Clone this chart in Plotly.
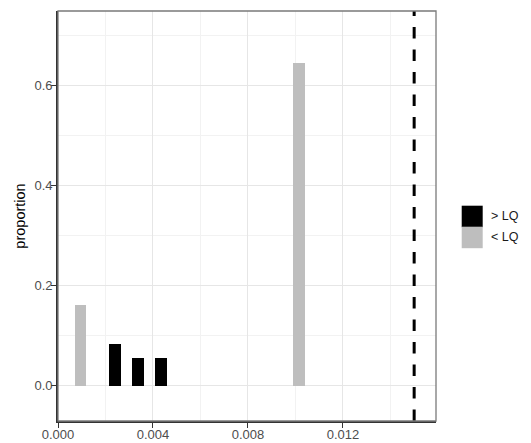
import plotly.graph_objects as go

# Data
above_x = [0.00239, 0.00337, 0.00434]
above_y = [0.0837, 0.0558, 0.0558]
below_x = [0.00095, 0.01015]
below_y = [0.162, 0.645]
bar_width = 0.0005
lq_line = 0.015
x_ticks = [0.0, 0.004, 0.008, 0.012]
y_ticks = [0.0, 0.2, 0.4, 0.6]
series_names = ["> LQ", "< LQ"]
series_colors = ["#000000", "#bebebe"]

FONT = "Liberation Sans, Arial, sans-serif"

ML, MR, MT, MB = 58, 95, 11, 22
W, H = 531, 443

fig = go.Figure()
fig.add_trace(go.Bar(x=above_x, y=above_y, width=bar_width, name=series_names[0],
                     marker=dict(color=series_colors[0], line=dict(width=0)), showlegend=False))
fig.add_trace(go.Bar(x=below_x, y=below_y, width=bar_width, name=series_names[1],
                     marker=dict(color=series_colors[1], line=dict(width=0)), showlegend=False))

# dashed vertical reference line
fig.add_shape(type="line", xref="x", yref="paper", x0=lq_line, x1=lq_line, y0=0, y1=1,
              line=dict(color="black", width=3, dash="11.5px,11px"), layer="above")

# panel border
fig.add_shape(type="rect", xref="paper", yref="paper", x0=0, x1=1, y0=0, y1=1,
              line=dict(color="#7a7a7a", width=1.3), layer="above")

# manual legend keys (large squares like ggplot)
pw = W - ML - MR
ph = H - MT - MB
def px_to_paper_x(px):
    return (px - ML) / pw
def px_to_paper_y(py):
    return (H - MB - py) / ph

key_tops = [205.7, 226.7]
for i, (nm, col) in enumerate(zip(series_names, series_colors)):
    t = key_tops[i]
    b = t + 21.5
    fig.add_shape(type="rect", xref="paper", yref="paper",
                  x0=px_to_paper_x(461.7), x1=px_to_paper_x(482.7),
                  y0=px_to_paper_y(b), y1=px_to_paper_y(t),
                  fillcolor=col, line=dict(width=0))
    fig.add_annotation(xref="paper", yref="paper", x=px_to_paper_x(489), y=px_to_paper_y((t + b) / 2),
                       text=nm, showarrow=False, xanchor="left", yanchor="middle",
                       font=dict(family=FONT, size=12.5, color="#1a1a1a"))

fig.update_layout(
    width=W, height=H,
    margin=dict(l=ML, r=MR, t=MT, b=MB, autoexpand=False),
    paper_bgcolor="white", plot_bgcolor="white",
    barmode="overlay", bargap=0,
    showlegend=False,
    font=dict(family=FONT, size=13, color="#4d4d4d"),
)
fig.update_xaxes(
    automargin=False,
    range=[0, 0.01592], tickmode="array", tickvals=x_ticks,
    ticktext=[f"{v:.3f}" for v in x_ticks],
    ticks="outside", ticklen=5, tickwidth=1.2, tickcolor="#333333",
    ticklabelstandoff=-4,
    showline=True, linecolor="#333333", linewidth=1.6,
    showgrid=True, gridcolor="#e6e6e6", gridwidth=1.1, zeroline=False,
    minor=dict(tickmode="array", tickvals=[0.002, 0.006, 0.010, 0.014],
               showgrid=True, gridcolor="#f2f2f2", gridwidth=0.6, ticks=""),
    tickfont=dict(family=FONT, size=13, color="#4d4d4d"),
)
fig.update_yaxes(
    automargin=False,
    range=[-0.0702, 0.7484], tickmode="array", tickvals=y_ticks,
    ticktext=[f"{v:.1f}" for v in y_ticks],
    ticks="outside", ticklen=5, tickwidth=1.2, tickcolor="#333333",
    ticklabelstandoff=-4,
    showline=True, linecolor="#333333", linewidth=1.6,
    showgrid=True, gridcolor="#e6e6e6", gridwidth=1.1, zeroline=False,
    minor=dict(tickmode="array", tickvals=[0.1, 0.3, 0.5, 0.7],
               showgrid=True, gridcolor="#f2f2f2", gridwidth=0.6, ticks=""),
    tickfont=dict(family=FONT, size=13, color="#4d4d4d"),
    title=dict(text="proportion", font=dict(family=FONT, size=14.5, color="#000000"), standoff=5),
)

fig.write_html("out.html", config={"displayModeBar": False},
               post_script="document.body.style.margin='0';document.body.style.padding='0';")
